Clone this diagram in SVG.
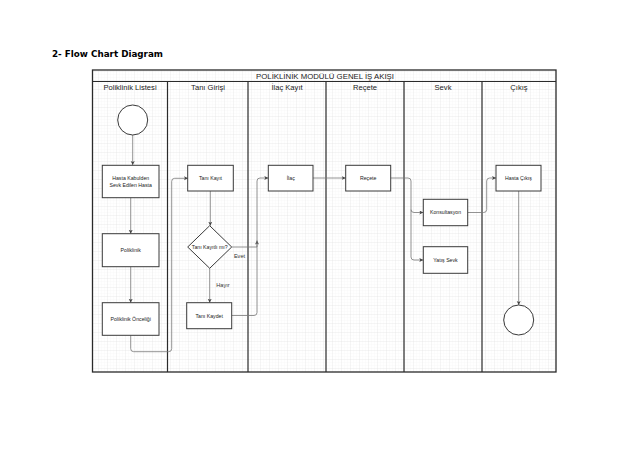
<svg xmlns="http://www.w3.org/2000/svg" width="638" height="452" viewBox="0 0 638 452">
<style>
text{font-family:"Liberation Sans",Arial,sans-serif;fill:#222}
.lane{font-size:7.6px;text-anchor:middle}
.node{font-size:5.2px;text-anchor:middle}
.lbl{font-size:5.6px;text-anchor:middle;fill:#333}
.box{fill:#fff;stroke:#3a3a3a;stroke-width:1}
.frame{fill:none;stroke:#2a2a2a;stroke-width:1.3}
.div{stroke:#2a2a2a;stroke-width:1.2}
.conn path{fill:none;stroke:#777;stroke-width:0.8;marker-end:url(#arr)}
</style>
<defs>
<pattern id="gmin" width="3" height="3" patternUnits="userSpaceOnUse">
<path d="M3,0V3H0" fill="none" stroke="#f3f3f3" stroke-width="0.5"/>
</pattern>
<pattern id="gmaj" width="9" height="9" patternUnits="userSpaceOnUse">
<rect width="9" height="9" fill="url(#gmin)"/>
<path d="M9,0V9H0" fill="none" stroke="#e6e6e6" stroke-width="0.6"/>
</pattern>
<marker id="arr" markerWidth="5" markerHeight="5" refX="4" refY="2" orient="auto" markerUnits="userSpaceOnUse">
<path d="M0,0L4,2L0,4L1,2Z" fill="#444"/>
</marker>
</defs>
<rect width="638" height="452" fill="#fff"/>
<text x="52" y="57.3" textLength="111" lengthAdjust="spacingAndGlyphs" style="font-family:'DejaVu Sans',Verdana,sans-serif;font-size:8.2px;font-weight:bold;fill:#000">2- Flow Chart Diagram</text>

<g id="pool">
<rect x="92.5" y="70" width="463.5" height="302" fill="url(#gmaj)"/>
<rect x="92.5" y="70" width="463.5" height="302" class="frame"/>
<line x1="92.5" y1="81.5" x2="556" y2="81.5" class="div"/>
<text x="325" y="79" style="font-size:7.8px;text-anchor:middle">POLİKLİNİK MODÜLÜ GENEL İŞ AKIŞI</text>
<line x1="167.5" y1="81.5" x2="167.5" y2="372" class="div"/>
<line x1="248" y1="81.5" x2="248" y2="372" class="div"/>
<line x1="326" y1="81.5" x2="326" y2="372" class="div"/>
<line x1="404" y1="81.5" x2="404" y2="372" class="div"/>
<line x1="482" y1="81.5" x2="482" y2="372" class="div"/>
<text x="130" y="90" class="lane">Poliklinik Listesi</text>
<text x="208" y="90" class="lane">Tanı Girişi</text>
<text x="287" y="90" class="lane">İlaç Kayıt</text>
<text x="365" y="90" class="lane">Reçete</text>
<text x="443" y="90" class="lane">Sevk</text>
<text x="519" y="90" class="lane">Çıkış</text>
</g>

<g class="conn" id="connectors">
<path d="M132.7,135V165"/>
<path d="M130.7,197.7V233.7"/>
<path d="M130.7,266.7V302.7"/>
<path d="M130.7,335.3V348.7Q130.7,351.7 133.7,351.7H168.7Q171.7,351.7 171.7,348.7V181.3Q171.7,178.3 174.7,178.3H188"/>
<path d="M210.3,191V225.7"/>
<path d="M209.7,268.3V302.7"/>
<path d="M231.7,247H257V240.5"/>
<path d="M231.7,315.5H254Q257,315.5 257,312.5V181Q257,178 260,178H268.3"/>
<path d="M313,178H345.7"/>
<path d="M390.7,178H408Q411,178 411,181V209.5Q411,212.5 414,212.5H423.3"/>
<path d="M411,209.5V257Q411,260 414,260H423.3"/>
<path d="M467.7,212.5H483.7Q486.7,212.5 486.7,209.5V181Q486.7,178 489.7,178H496"/>
<path d="M518.7,191V305"/>
<text x="239.5" y="257.5" class="lbl">Evet</text>
<text x="223" y="287" class="lbl">Hayır</text>
</g>

<g id="start"><circle cx="132.7" cy="120" r="15" class="box"/></g>
<g id="hasta-kabul"><rect x="102.3" y="165.3" width="56.7" height="32.4" class="box"/>
<text x="130.7" y="180" class="node">Hasta Kabulden</text><text x="130.7" y="186.5" class="node">Sevk Edilen Hasta</text></g>
<g id="poliklinik"><rect x="102.3" y="233.7" width="56.7" height="33" class="box"/>
<text x="130.7" y="252" class="node">Poliklinik</text></g>
<g id="poliklinik-onceligi"><rect x="102.3" y="302.7" width="56.7" height="32.6" class="box"/>
<text x="130.7" y="320.8" class="node">Poliklinik Önceliği</text></g>
<g id="tani-kayit"><rect x="187.7" y="165.3" width="45.6" height="25.7" class="box"/>
<text x="210.5" y="180" class="node">Tanı Kayıt</text></g>
<g id="tani-kayitli"><path d="M209.7,225.7L231.7,247L209.7,268.3L187.7,247Z" class="box"/>
<text x="209.7" y="249" class="node">Tanı Kayıtlı mı?</text></g>
<g id="tani-kaydet"><rect x="186.7" y="302.7" width="45" height="26" class="box"/>
<text x="209.2" y="317.5" class="node">Tanı Kaydet</text></g>
<g id="ilac"><rect x="268.3" y="165.3" width="44.7" height="25.7" class="box"/>
<text x="290.7" y="180" class="node">İlaç</text></g>
<g id="recete"><rect x="345.7" y="165.3" width="45" height="25.7" class="box"/>
<text x="368.2" y="180" class="node">Reçete</text></g>
<g id="konsultasyon"><rect x="423.3" y="199.3" width="44.4" height="26.4" class="box"/>
<text x="445.5" y="214.3" class="node">Konsultasyon</text></g>
<g id="yatis-sevk"><rect x="423.3" y="246.7" width="44.4" height="26.6" class="box"/>
<text x="445.5" y="261.8" class="node">Yatış Sevk</text></g>
<g id="hasta-cikis"><rect x="496" y="165.3" width="45" height="25.7" class="box"/>
<text x="518.5" y="180" class="node">Hasta Çıkış</text></g>
<g id="end"><circle cx="518.7" cy="320" r="15" class="box"/></g>
</svg>
